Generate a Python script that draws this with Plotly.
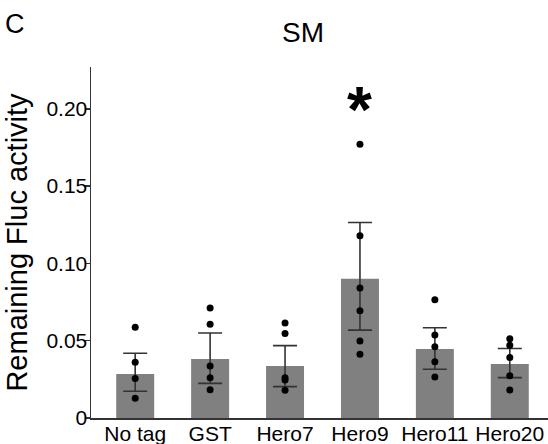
import plotly.graph_objects as go

categories = ["No tag", "GST", "Hero7", "Hero9", "Hero11", "Hero20"]
means = [0.0285, 0.0382, 0.0337, 0.0900, 0.0447, 0.0350]
err_plus = [0.0134, 0.0168, 0.0131, 0.0364, 0.0137, 0.0099]
err_minus = [0.0112, 0.0158, 0.0134, 0.0332, 0.0132, 0.0089]
points = {
    "No tag": [0.0587, 0.0361, 0.0255, 0.0128],
    "GST": [0.0712, 0.0606, 0.0337, 0.0261, 0.0183],
    "Hero7": [0.0615, 0.0546, 0.0261, 0.0246, 0.0179],
    "Hero9": [0.1771, 0.1178, 0.0841, 0.0693, 0.0498, 0.0412],
    "Hero11": [0.0764, 0.0537, 0.0461, 0.0364, 0.0265],
    "Hero20": [0.0513, 0.0470, 0.0392, 0.0274, 0.0181],
}
ytick_vals = [0, 0.05, 0.10, 0.15, 0.20]
ytick_text = ["0", "0.05", "0.10", "0.15", "0.20"]
title_text = "SM"
ytitle = "Remaining Fluc activity"
panel_label = "C"
sig_label = "*"
sig_category = "Hero9"

FONT = "Liberation Sans, Arial, sans-serif"

fig = go.Figure()
fig.add_trace(go.Bar(
    x=categories, y=means, width=0.507,
    marker=dict(color="#808080", line=dict(width=0)),
    error_y=dict(type="data", symmetric=False, array=err_plus, arrayminus=err_minus,
                 color="#333333", thickness=1.6, width=12),
    showlegend=False, hoverinfo="skip",
))
px_, py_ = [], []
for c in categories:
    for v in points[c]:
        px_.append(c)
        py_.append(v)
fig.add_trace(go.Scatter(
    x=px_, y=py_, mode="markers",
    marker=dict(color="black", size=7),
    showlegend=False, cliponaxis=False, hoverinfo="skip",
))

fig.add_annotation(x=sig_category, y=0.2045, text="<b>" + sig_label + "</b>", showarrow=False,
                   font=dict(family=FONT, size=64, color="black"),
                   xanchor="center", yanchor="middle", yshift=-8)
fig.add_annotation(x=-0.192, y=1.17, xref="paper", yref="paper", text=panel_label,
                   showarrow=False, xanchor="left", yanchor="top",
                   font=dict(family=FONT, size=27, color="black"))

fig.update_layout(
    width=548, height=444,
    margin=dict(l=91, r=0, t=67, b=26),
    plot_bgcolor="white", paper_bgcolor="white",
    font=dict(family=FONT, color="black"),
    title=dict(text=title_text, x=0.553, xanchor="center", y=0.928, yanchor="middle",
               font=dict(family=FONT, size=28, color="black")),
    bargap=0.5,
)
fig.update_xaxes(
    type="category", range=[-0.59, 5.51],
    showline=True, linecolor="#333333", linewidth=1.5,
    ticks="", showgrid=False, zeroline=False, ticklabelstandoff=-4,
    tickfont=dict(family=FONT, size=21, color="black"),
)
fig.update_yaxes(
    range=[0, 0.227], tickvals=ytick_vals, ticktext=ytick_text,
    showline=True, linecolor="#333333", linewidth=1.5,
    ticks="outside", ticklen=5, tickcolor="#333333", tickwidth=1.5,
    showgrid=False, zeroline=False, ticklabelstandoff=-7,
    tickfont=dict(family=FONT, size=21, color="black"),
    title=dict(text=ytitle, font=dict(family=FONT, size=29, color="black"), standoff=10),
)

fig.write_html("out.html", config={"displayModeBar": False, "staticPlot": True},
               post_script="document.body.style.margin='0';document.body.style.overflow='hidden';")
